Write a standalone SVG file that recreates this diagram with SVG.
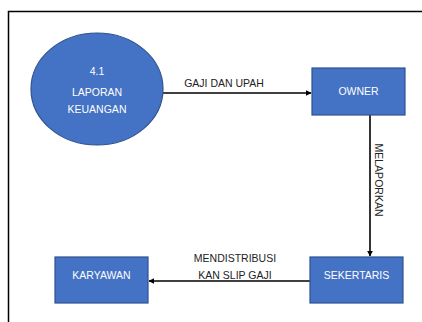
<svg xmlns="http://www.w3.org/2000/svg" width="422" height="322" viewBox="0 0 422 322">
  <style>
    .shape { fill: #4472C4; stroke: #2F528F; stroke-width: 1.2; }
    .in { font-family: "Liberation Sans", "DejaVu Sans", sans-serif; font-size: 10.5px; fill: #ffffff; text-anchor: middle; }
    .lbl { font-family: "Liberation Sans", "DejaVu Sans", sans-serif; font-size: 10.5px; fill: #222222; text-anchor: middle; }
    .flow { fill: none; stroke: #000000; stroke-width: 1.6; }
  </style>
  <defs>
    <marker id="arrow" viewBox="0 0 10 10" refX="9" refY="5" markerWidth="6" markerHeight="6" markerUnits="userSpaceOnUse" orient="auto">
      <path d="M0,0 L10,5 L0,10 z" fill="#000000"/>
    </marker>
  </defs>
  <rect width="422" height="322" fill="#ffffff"/>

  <!-- outer frame -->
  <path d="M8.5,322 V11.5 H422" fill="none" stroke="#000000" stroke-width="1.5"/>

  <!-- connectors -->
  <g id="connectors">
    <line class="flow" x1="163" y1="93" x2="311" y2="93" marker-end="url(#arrow)"/>
    <text class="lbl" x="224" y="87">GAJI DAN UPAH</text>
    <line class="flow" x1="370" y1="115" x2="370" y2="256" marker-end="url(#arrow)"/>
    <text class="lbl" transform="translate(374.5,180) rotate(90)" x="0" y="0">MELAPORKAN</text>
    <line class="flow" x1="310" y1="281" x2="149" y2="281" marker-end="url(#arrow)"/>
    <text class="lbl" x="235" y="262">MENDISTRIBUSI</text>
    <text class="lbl" x="235" y="279">KAN SLIP GAJI</text>
  </g>

  <!-- process 4.1 -->
  <g id="laporan-keuangan">
    <ellipse class="shape" cx="97" cy="89" rx="66" ry="56"/>
    <text class="in" x="97" y="75">4.1</text>
    <text class="in" x="97" y="96">LAPORAN</text>
    <text class="in" x="97" y="113">KEUANGAN</text>
  </g>

  <!-- external entities -->
  <g id="owner">
    <rect class="shape" x="312" y="68" width="93" height="47"/>
    <text class="in" x="358.5" y="95">OWNER</text>
  </g>
  <g id="sekertaris">
    <rect class="shape" x="310" y="257" width="93" height="46"/>
    <text class="in" x="356.5" y="279">SEKERTARIS</text>
  </g>
  <g id="karyawan">
    <rect class="shape" x="55" y="257" width="93" height="46"/>
    <text class="in" x="101.5" y="279">KARYAWAN</text>
  </g>
</svg>
